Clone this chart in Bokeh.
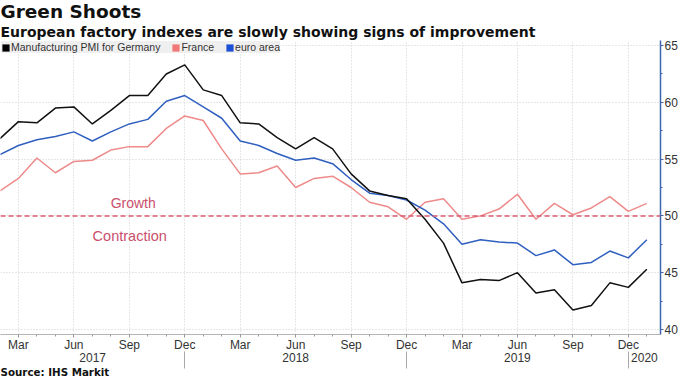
from bokeh.plotting import figure
from bokeh.models import (Range1d, LinearAxis, FixedTicker, Legend, LegendItem,
                          Span, Label, Title, ColumnDataSource)
from bokeh.embed import file_html
from bokeh.resources import INLINE

# ---- data (monthly, Feb 2017 .. Jan 2020) ----
months = ["2017-02", "2017-03", "2017-04", "2017-05", "2017-06", "2017-07", "2017-08",
          "2017-09", "2017-10", "2017-11", "2017-12",
          "2018-01", "2018-02", "2018-03", "2018-04", "2018-05", "2018-06", "2018-07",
          "2018-08", "2018-09", "2018-10", "2018-11", "2018-12",
          "2019-01", "2019-02", "2019-03", "2019-04", "2019-05", "2019-06", "2019-07",
          "2019-08", "2019-09", "2019-10", "2019-11", "2019-12",
          "2020-01"]
germany = [56.8, 58.3, 58.2, 59.5, 59.6, 58.1, 59.3, 60.6, 60.6, 62.5, 63.3,
           61.1, 60.6, 58.2, 58.1, 56.9, 55.9, 56.9, 55.9, 53.7, 52.2, 51.8, 51.5,
           49.7, 47.6, 44.1, 44.4, 44.3, 45.0, 43.2, 43.5, 41.7, 42.1, 44.1, 43.7,
           45.3]
france = [52.2, 53.3, 55.1, 53.8, 54.8, 54.9, 55.8, 56.1, 56.1, 57.7, 58.8,
          58.4, 55.9, 53.7, 53.8, 54.4, 52.5, 53.3, 53.5, 52.5, 51.2, 50.8, 49.7,
          51.2, 51.5, 49.7, 50.0, 50.6, 51.9, 49.7, 51.1, 50.1, 50.7, 51.7, 50.4,
          51.1]
euro = [55.4, 56.2, 56.7, 57.0, 57.4, 56.6, 57.4, 58.1, 58.5, 60.1, 60.6,
        59.6, 58.6, 56.6, 56.2, 55.5, 54.9, 55.1, 54.6, 53.2, 52.0, 51.8, 51.4,
        50.5, 49.3, 47.5, 47.9, 47.7, 47.6, 46.5, 47.0, 45.7, 45.9, 46.9, 46.3,
        47.9]
series_names = ["Manufacturing PMI for Germany", "France", "euro area"]
month_names = {3: "Mar", 6: "Jun", 9: "Sep", 12: "Dec"}
y_ticks = [40, 45, 50, 55, 60, 65]
threshold = 50
zone_labels = ["Growth", "Contraction"]

# ---- derived positions ----
idx = list(range(len(months)))
mon = [int(m[5:]) for m in months]
yr = [m[:4] for m in months]
quarter_idx = [i for i in idx if mon[i] in month_names]
overrides = {i: month_names[mon[i]] for i in quarter_idx}
sep_idx = [i for i in idx if mon[i] == 12]

x_start, x_end = 0.03, 35.74
bounds = [x_start] + sep_idx + [x_end]
year_list = sorted(set(yr))
year_pos = [(bounds[k] + bounds[k + 1]) / 2 for k in range(len(year_list))]
year_over = {p: y for p, y in zip(year_pos, year_list)}

FONT = "Liberation Sans"
TFONT = "DejaVu Sans"

p = figure(width=680, height=377, output_backend="svg", toolbar_location=None,
           x_range=Range1d(x_start, x_end), y_range=Range1d(39.55, 65.45),
           y_axis_location="right", min_border_left=0, min_border_right=0,
           min_border_top=0, min_border_bottom=0, outline_line_color=None,
           background_fill_color="white", border_fill_color="white")

# titles (main title outermost, subtitle next to the plot)
p.title.text = "Green Shoots"
p.title.text_font = TFONT
p.title.text_font_size = "18.5px"
p.title.text_font_style = "bold"
p.title.text_color = "#111111"
p.title.offset = 0
p.title.standoff = -3
p.add_layout(Title(text="European factory indexes are slowly showing signs of improvement",
                   text_font=TFONT, text_font_size="14px", text_font_style="bold",
                   text_color="#111111", offset=0, standoff=2),
             "above")

# grid
p.xgrid.ticker = FixedTicker(ticks=quarter_idx)
p.ygrid.ticker = FixedTicker(ticks=y_ticks)
for g in (p.xgrid[0], p.ygrid[0]):
    g.grid_line_color = "#cfcfcf"
    g.grid_line_dash = "1 2"
    g.grid_line_width = 1

# right axis
ya = p.yaxis[0]
ya.ticker = FixedTicker(ticks=y_ticks, minor_ticks=[42.5, 47.5, 52.5, 57.5, 62.5])
ya.axis_line_color = "#3f64b0"
ya.axis_line_width = 1.5
ya.major_tick_line_color = "#3f64b0"
ya.minor_tick_line_color = "#3f64b0"
ya.major_tick_in = 0
ya.major_tick_out = 3
ya.minor_tick_in = 0
ya.minor_tick_out = 2
ya.major_label_text_font = FONT
ya.major_label_text_font_size = "12px"
ya.major_label_text_color = "#333333"
ya.major_label_standoff = 1

# bottom month axis
xa = p.xaxis[0]
xa.ticker = FixedTicker(ticks=quarter_idx, minor_ticks=idx)
xa.major_label_overrides = overrides
xa.axis_line_color = "#b5b5b5"
xa.major_tick_line_color = "#999999"
xa.minor_tick_line_color = "#999999"
xa.major_tick_in = 0
xa.major_tick_out = 3
xa.minor_tick_in = 0
xa.minor_tick_out = 2
xa.major_label_standoff = 0
xa.major_label_text_font = FONT
xa.major_label_text_font_size = "12px"
xa.major_label_text_color = "#333333"

# year axis (separators drawn as minor ticks)
yax = LinearAxis(ticker=FixedTicker(ticks=year_pos, minor_ticks=sep_idx),
                 major_label_overrides=year_over, axis_line_color=None,
                 major_tick_line_color=None, major_tick_in=0, major_tick_out=0,
                 minor_tick_in=3, minor_tick_out=14, minor_tick_line_color="#aaaaaa",
                 major_label_standoff=-16, major_label_text_font=FONT,
                 major_label_text_font_size="12px", major_label_text_color="#333333")
p.add_layout(yax, "below")

p.add_layout(Title(text="Source: IHS Markit", text_font=TFONT, text_font_size="10.3px",
                   text_font_style="bold", text_color="#111111", offset=0, standoff=-1),
             "below")

# threshold line and labels
p.add_layout(Span(location=threshold, dimension="width", line_color="#dd5a73",
                  line_dash="5 3", line_width=1.5))
p.add_layout(Label(x=7.21, y=51.17, text=zone_labels[0], text_align="center",
                   text_baseline="middle", text_font=FONT, text_font_size="14px",
                   text_color="#c9506c"))
p.add_layout(Label(x=7.02, y=48.26, text=zone_labels[1], text_align="center",
                   text_baseline="middle", text_font=FONT, text_font_size="14.5px",
                   text_color="#c9506c"))

# series
src = ColumnDataSource(dict(x=idx, de=germany, fr=france, ea=euro))
p.line("x", "fr", source=src, line_color="#ee8a8a", line_width=1.5)
p.line("x", "ea", source=src, line_color="#2f5fbf", line_width=1.5)
p.line("x", "de", source=src, line_color="#111111", line_width=1.5)

# legend proxies (squares, no visible data)
nan = float("nan")
legend_colors = ["#000000", "#f07878", "#1d4fd6"]
proxies = [p.quad(left=[nan], right=[nan], bottom=[nan], top=[nan],
                  fill_color=c, line_color=None) for c in legend_colors]
legend = Legend(items=[LegendItem(label=n, renderers=[r]) for n, r in zip(series_names, proxies)],
                location="top_left", orientation="horizontal",
                background_fill_color="#efefef", background_fill_alpha=1.0,
                border_line_color=None, margin=1, padding=4, spacing=11,
                glyph_width=9, glyph_height=9, label_standoff=1, label_height=11,
                label_text_font=FONT, label_text_font_size="10.5px",
                label_text_color="#333333")
p.add_layout(legend, "center")

open("out.html", "w").write(file_html(p, INLINE))
